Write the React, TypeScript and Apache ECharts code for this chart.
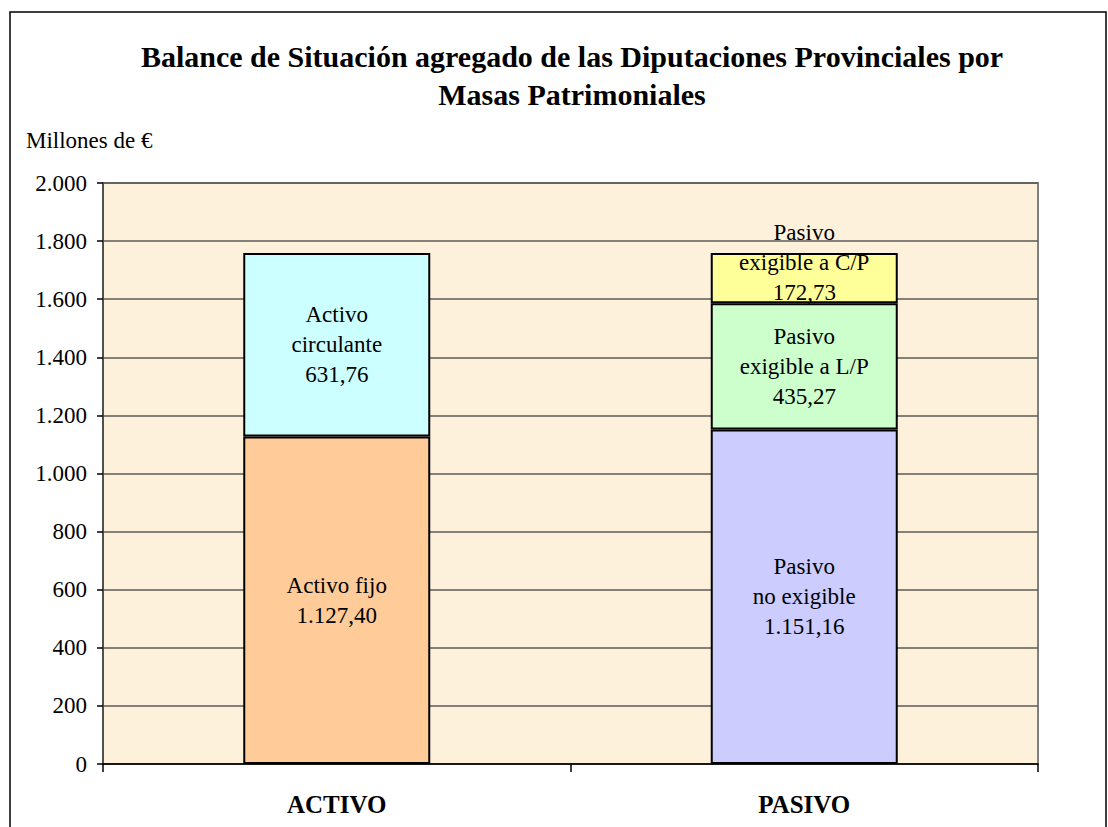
import React, { useEffect, useRef } from "react";
import * as echarts from "echarts";

const categories = ["ACTIVO", "PASIVO"];
const yTicks = [0, 200, 400, 600, 800, 1000, 1200, 1400, 1600, 1800, 2000];

const activoFijo = [1127.4, null];
const activoCirculante = [631.76, null];
const pasivoNoExigible = [null, 1151.16];
const pasivoLP = [null, 435.27];
const pasivoCP = [null, 172.73];

const segmentNames = [
  ["Activo fijo"],
  ["Activo", "circulante"],
  ["Pasivo", "no exigible"],
  ["Pasivo", "exigible a L/P"],
  ["Pasivo", "exigible a C/P"],
];
const segmentColors = ["#FFCC99", "#CCFFFF", "#CCCCFF", "#CCFFCC", "#FFFF99"];

const title = "Balance de Situación agregado de las Diputaciones Provinciales por\nMasas Patrimoniales";
const unitLabel = "Millones de €";

const SERIF = "Liberation Serif";

function fmtNum(v: number, dec: number): string {
  const s = v.toFixed(dec);
  const [i, d] = s.split(".");
  const ii = i.replace(/\B(?=(\d{3})+(?!\d))/g, ".");
  return d ? ii + "," + d : ii;
}

export default function App() {
  const ref = useRef<HTMLDivElement>(null);
  useEffect(() => {
    if (!ref.current) return;
    const chart = echarts.init(ref.current, null, { renderer: "svg" });
    const datasets = [activoFijo, activoCirculante, pasivoNoExigible, pasivoLP, pasivoCP];
    const series = datasets.map((data, idx) => ({
      type: "bar",
      name: segmentNames[idx].join(" "),
      stack: "total",
      data,
      barWidth: "40%",
      itemStyle: { color: segmentColors[idx], borderColor: "#000", borderWidth: 2 },
      label: {
        show: true,
        position: "inside",
        offset: idx === 4 ? [0, -16] : [0, 0],
        fontFamily: SERIF,
        fontSize: 23,
        lineHeight: 30,
        color: "#000",
        formatter: (p: any) => [...segmentNames[idx], fmtNum(p.value, 2)].join("\n"),
      },
    }));
    chart.setOption({
      animation: false,
      backgroundColor: "#fff",
      grid: {
        left: 103,
        right: 70,
        top: 183,
        bottom: 63,
        show: true,
        backgroundColor: "#FDF1DC",
        borderColor: "#808080",
        borderWidth: 2,
      },
      graphic: [
        {
          type: "rect",
          shape: { x: 10, y: 12, width: 1096, height: 900 },
          style: { fill: "none", stroke: "#000", lineWidth: 1.5 },
          silent: true,
        },
        {
          type: "text",
          x: 572,
          y: 37,
          style: {
            text: title,
            textAlign: "center",
            textVerticalAlign: "top",
            fontFamily: SERIF,
            fontWeight: "bold",
            fontSize: 30,
            lineHeight: 38,
            fill: "#000",
          },
        },
        {
          type: "text",
          x: 26,
          y: 140,
          style: {
            text: unitLabel,
            textAlign: "left",
            textVerticalAlign: "middle",
            fontFamily: SERIF,
            fontSize: 23,
            fill: "#000",
          },
        },
      ],
      xAxis: {
        type: "category",
        data: categories,
        boundaryGap: true,
        axisLine: { show: true, lineStyle: { color: "#000", width: 1.5 } },
        axisTick: { show: true, inside: false, length: 8, lineStyle: { color: "#000", width: 1.5 } },
        axisLabel: {
          margin: 28,
          fontFamily: SERIF,
          fontWeight: "bold",
          fontSize: 25,
          color: "#000",
        },
        splitLine: { show: false },
      },
      yAxis: {
        type: "value",
        min: yTicks[0],
        max: yTicks[yTicks.length - 1],
        interval: yTicks[1] - yTicks[0],
        axisLine: { show: true, lineStyle: { color: "#404040", width: 1.5 } },
        axisTick: { show: true, inside: false, length: 6, lineStyle: { color: "#000", width: 1.5 } },
        axisLabel: {
          margin: 16,
          fontFamily: SERIF,
          fontSize: 23,
          color: "#000",
          formatter: (v: number) => fmtNum(v, 0),
        },
        splitLine: { show: true, lineStyle: { color: "#5a5a5a", width: 1.5 } },
      },
      series,
    });
    return () => chart.dispose();
  }, []);
  return (
    <div
      ref={ref}
      style={{ position: "fixed", left: 0, top: 0, width: 1108, height: 827, background: "#fff" }}
    />
  );
}
